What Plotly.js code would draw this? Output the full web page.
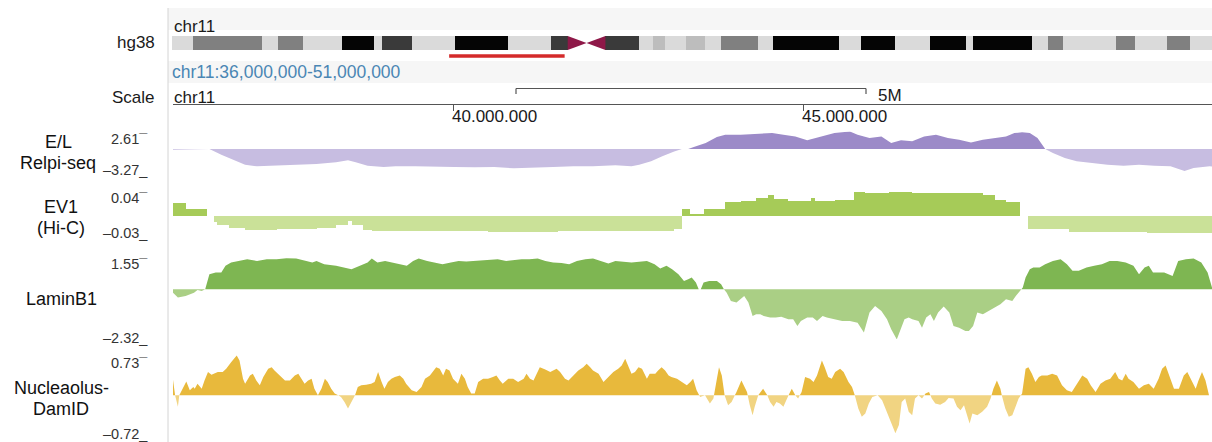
<!DOCTYPE html>
<html>
<head>
<meta charset="utf-8">
<script src="https://cdn.plot.ly/plotly-3.0.1.min.js"></script>
<style>html,body{margin:0;padding:0;background:#fff}#chart{width:1212px;height:442px}</style>
</head>
<body>
<div id="chart"></div>
<script>
// ---------------- DATA ----------------
const chromName = "chr11";
const assembly = "hg38";
const chromLength = 135.09;          // Mb
const regionStart = 36.0, regionEnd = 51.0; // Mb
const tickMb = [40, 45];
const scaleBarStart = 40.9, scaleBarLen = 5, scaleBarLabel = "5M";

// ideogram bands (Mb edges) and stains
const bandEdges = [0,2.7,11.7,13.8,17.0,22.1,26.3,27.3,31.2,36.7,43.7,49.2,51.4,56.3,60.6,62.5,64.1,66.8,69.2,71.3,76.1,78.1,86.6,89.5,93.9,98.4,103.2,104.0,111.7,113.8,115.7,122.6,125.1,129.3,132.2,135.09];
const bandStain = ["gneg","gpos50","gneg","gpos50","gneg","gpos100","gneg","gpos75","gneg","gpos100","gneg","gpos75","acen","gpos75","gneg","gpos25","gneg","gpos25","gneg","gpos50","gneg","gpos100","gneg","gpos100","gneg","gpos100","gneg","gpos100","gneg","gpos50","gneg","gpos50","gneg","gpos50","gneg"];

const trackNames = [["E/L","Relpi-seq"],["EV1","(Hi-C)"],["LaminB1"],["Nucleaolus-","DamID"]];
const trackMax = [2.61, 0.04, 1.55, 0.73];
const trackMin = [-3.27, -0.03, -2.32, -0.72];

// E/L Repli-seq
const repliMb = [36.00,36.18,36.52,36.69,36.86,37.03,37.20,37.48,37.76,38.05,
38.33,38.50,38.61,38.78,39.01,39.18,39.46,39.74,40.02,40.31,
40.59,40.87,41.15,41.43,41.72,42.00,42.32,42.55,42.66,42.83,
42.99,43.16,43.27,43.36,43.44,43.61,43.77,43.89,44.11,44.33,
44.56,44.72,44.89,45.06,45.23,45.45,45.67,45.78,45.95,46.12,
46.26,46.40,46.56,46.73,46.90,47.07,47.23,47.40,47.57,47.74,
47.90,48.02,48.13,48.24,48.35,48.46,48.57,48.74,48.91,49.13,
49.35,49.58,49.80,50.02,50.25,50.45,50.58,50.81,50.85];
const repliValue = [-0.10,-0.05,0,-0.85,-1.58,-2.33,-2.57,-2.48,-2.33,-2.23,
-1.98,-1.68,-1.98,-2.48,-2.67,-2.57,-2.57,-2.67,-2.67,-2.72,
-2.67,-2.87,-2.72,-2.67,-2.57,-2.57,-2.43,-2.57,-2.33,-1.83,
-1.09,-0.35,0,0,0.30,0.89,1.78,2.13,2.13,2.23,
2.38,2.13,1.88,1.29,1.78,2.38,2.62,2.13,1.63,1.88,
0.89,1.29,1.14,1.88,2.13,1.63,1.39,0.99,1.39,1.63,
1.88,2.38,2.48,2.38,1.63,0,-0.59,-1.34,-1.83,-2.08,
-2.33,-2.48,-2.33,-2.48,-2.57,-3.27,-2.82,-2.57,-2.60];

// EV1 (Hi-C) bins
const ev1Start = [36.00,36.18,36.58,36.63,36.80,37.03,37.48,38.05,38.33,38.50,
38.55,38.72,38.84,40.50,41.50,43.16,43.27,43.38,43.58,43.89,
44.11,44.33,44.50,44.58,44.78,45.11,45.17,45.45,45.73,45.89,
46.23,46.56,47.57,47.74,47.90,48.21,48.80,49.35,49.91];
const ev1End = [36.18,36.49,36.63,36.80,37.03,37.48,38.05,38.33,38.50,38.55,
38.72,38.84,40.50,41.50,43.16,43.27,43.38,43.58,43.89,44.11,
44.33,44.50,44.58,44.78,45.11,45.17,45.45,45.73,45.89,46.23,
46.56,47.57,47.74,47.90,48.10,48.80,49.35,49.91,50.85];
const ev1Value = [0.021,0.011,-0.011,-0.016,-0.020,-0.023,-0.022,-0.020,-0.015,-0.009,
-0.015,-0.023,-0.025,-0.026,-0.025,-0.022,0.010,0.003,0.011,0.022,
0.024,0.029,0.033,0.027,0.024,0.029,0.024,0.026,0.038,0.036,
0.038,0.036,0.033,0.026,0.022,-0.022,-0.027,-0.026,-0.028];

// LaminB1
const laminMb = [36.00,36.07,36.18,36.30,36.35,36.41,36.46,36.52,36.61,36.69,
36.75,36.83,36.92,37.06,37.20,37.34,37.48,37.62,37.76,37.88,
37.99,38.05,38.16,38.33,38.47,38.55,38.67,38.78,38.84,38.92,
39.03,39.12,39.23,39.34,39.43,39.51,39.63,39.74,39.85,39.97,
40.08,40.19,40.30,40.42,40.53,40.64,40.76,40.87,40.98,41.09,
41.21,41.32,41.43,41.55,41.66,41.77,41.89,42.00,42.11,42.22,
42.32,42.43,42.55,42.66,42.77,42.88,42.96,43.05,43.13,43.22,
43.30,43.36,43.41,43.47,43.51,43.54,43.58,43.66,43.77,43.83,
43.87,43.91,43.97,44.05,44.11,44.16,44.22,44.28,44.33,44.39,
44.44,44.53,44.61,44.69,44.79,44.86,44.92,44.97,45.06,45.14,
45.20,45.28,45.34,45.45,45.56,45.67,45.78,45.87,45.95,46.03,
46.12,46.20,46.26,46.34,46.40,46.45,46.51,46.56,46.65,46.70,
46.76,46.82,46.87,46.93,47.01,47.09,47.15,47.23,47.32,47.37,
47.43,47.49,47.57,47.65,47.74,47.82,47.90,47.99,48.04,48.10,
48.14,48.18,48.24,48.29,48.38,48.46,48.57,48.68,48.77,48.85,
48.94,49.05,49.16,49.27,49.38,49.49,49.61,49.72,49.80,49.88,
49.94,50.00,50.08,50.16,50.28,50.36,50.47,50.58,50.69,50.78,
50.85];
const laminValue = [-0.16,-0.39,-0.31,-0.16,-0.03,-0.08,0,0.70,0.78,0.78,
1.09,1.25,1.32,1.40,1.32,1.40,1.40,1.45,1.43,1.32,
1.25,1.32,1.17,1.09,1.01,0.93,1.09,1.25,1.43,1.25,
1.32,1.25,1.17,1.09,1.32,1.43,1.32,1.25,1.17,1.25,
1.32,1.29,1.32,1.32,1.37,1.40,1.32,1.37,1.40,1.40,
1.43,1.32,1.25,1.22,1.17,1.32,1.40,1.43,1.32,1.20,
1.32,1.28,1.25,1.28,1.32,1.17,0.97,1.09,0.93,0.70,
0.39,0.47,0.55,0.31,0,0,0.31,0.39,0.39,0.23,
0,-0.16,-0.55,-0.62,-0.47,-0.31,-0.62,-1.25,-1.17,-1.17,
-1.25,-1.32,-1.32,-1.28,-1.40,-1.40,-1.71,-1.48,-1.32,-1.32,
-1.48,-1.25,-1.32,-1.40,-1.48,-1.48,-1.56,-2.02,-1.09,-0.78,
-1.01,-1.40,-1.87,-2.34,-1.87,-1.40,-1.32,-1.40,-1.48,-1.79,
-1.32,-1.17,-1.48,-1.09,-0.81,-1.09,-1.71,-1.79,-1.95,-1.95,
-1.71,-1.09,-1.17,-1.01,-0.86,-0.70,-0.47,-0.55,-0.31,-0.08,
0.08,0.55,0.93,1.01,1.01,1.17,1.32,1.40,1.17,0.86,
0.86,1.01,1.09,1.17,1.32,1.32,1.25,1.09,0.70,1.01,
1.09,0.78,0.78,0.78,0.62,1.32,1.40,1.43,1.25,0.78,
0];

// Nucleolus DamID
const nucMb = [36.00,36.03,36.07,36.09,36.19,36.24,36.29,36.31,36.35,36.41,
36.45,36.50,36.55,36.60,36.64,36.71,36.76,36.83,36.91,36.95,
37.00,37.03,37.10,37.14,37.19,37.24,37.29,37.36,37.41,37.45,
37.52,37.60,37.67,37.74,37.79,37.83,37.88,37.93,37.98,38.02,
38.07,38.12,38.17,38.21,38.26,38.31,38.36,38.40,38.45,38.50,
38.55,38.60,38.64,38.69,38.76,38.83,38.88,38.93,38.98,39.02,
39.07,39.12,39.17,39.24,39.29,39.33,39.41,39.48,39.55,39.60,
39.67,39.71,39.76,39.81,39.86,39.90,39.95,40.00,40.07,40.12,
40.17,40.21,40.26,40.31,40.36,40.43,40.50,40.57,40.62,40.67,
40.71,40.79,40.86,40.93,41.01,41.05,41.10,41.15,41.20,41.24,
41.31,41.39,41.43,41.48,41.53,41.60,41.65,41.72,41.79,41.86,
41.91,41.96,42.00,42.08,42.15,42.22,42.29,42.36,42.41,42.46,
42.49,42.55,42.60,42.65,42.70,42.77,42.81,42.89,42.93,42.98,
43.03,43.08,43.12,43.20,43.27,43.34,43.39,43.43,43.48,43.53,
43.60,43.67,43.72,43.77,43.80,43.84,43.88,43.93,43.98,44.05,
44.12,44.20,44.24,44.28,44.31,44.36,44.43,44.48,44.53,44.58,
44.62,44.67,44.72,44.77,44.84,44.89,44.93,44.98,45.03,45.10,
45.15,45.20,45.27,45.31,45.36,45.41,45.46,45.53,45.58,45.65,
45.70,45.74,45.79,45.84,45.89,45.94,45.99,46.06,46.13,46.20,
46.27,46.32,46.37,46.41,46.46,46.51,46.56,46.60,46.65,46.70,
46.75,46.80,46.84,46.89,46.96,47.03,47.08,47.15,47.20,47.25,
47.30,47.34,47.38,47.42,47.49,47.56,47.63,47.68,47.72,47.77,
47.82,47.84,47.89,47.94,47.99,48.03,48.08,48.13,48.18,48.22,
48.27,48.32,48.37,48.41,48.49,48.56,48.63,48.70,48.77,48.84,
48.91,48.99,49.06,49.11,49.18,49.25,49.32,49.39,49.46,49.51,
49.56,49.61,49.65,49.72,49.80,49.87,49.94,50.01,50.08,50.13,
50.18,50.22,50.30,50.37,50.44,50.49,50.56,50.61,50.65,50.70,
50.75,50.80];
const nucValue = [0.28,0,-0.21,0,0.25,0.09,0.15,0.12,0.21,0.12,
0.27,0.42,0.37,0.39,0.42,0.42,0.48,0.60,0.72,0.63,
0.30,0.21,0.36,0.39,0.27,0.18,0.33,0.48,0.51,0.45,
0.36,0.27,0.27,0.36,0.39,0.30,0.21,0.27,0.30,0.12,
0,0.12,0.30,0.24,0.12,0.03,0,-0.03,-0.12,-0.24,
-0.12,0,0.15,0.18,0.19,0.21,0.24,0.42,0.24,0.12,
0.24,0.30,0.33,0.36,0.30,0.21,0.09,0.06,0.15,0.30,
0.36,0.42,0.51,0.48,0.36,0.48,0.45,0.30,0.21,0.39,
0.30,0.15,0.03,0.03,0.24,0.30,0.30,0.33,0.36,0.27,
0.21,0.30,0.30,0.24,0.30,0.39,0.30,0.27,0.42,0.51,
0.47,0.42,0.45,0.48,0.42,0.30,0.27,0.36,0.45,0.51,
0.57,0.51,0.45,0.39,0.24,0.33,0.42,0.48,0.54,0.66,
0.57,0.39,0.42,0.51,0.48,0.30,0.39,0.39,0.45,0.51,
0.45,0.36,0.33,0.30,0.24,0.18,0.24,0.30,0.09,-0.03,
0,-0.15,-0.06,0.30,0.51,0.36,0,-0.18,-0.12,0.06,
0.27,0.06,-0.18,-0.36,-0.21,0,0.12,0.03,-0.12,-0.21,
-0.12,-0.15,-0.21,-0.06,0.12,0,-0.06,0.06,0.33,0.30,
0.24,0.36,0.63,0.51,0.33,0.30,0.42,0.48,0.42,0.24,
0.15,0,-0.24,-0.39,-0.33,-0.15,-0.03,0.01,-0.09,-0.30,
-0.54,-0.69,-0.54,-0.12,-0.06,-0.30,-0.36,-0.06,0,-0.06,
0.03,0.06,-0.06,-0.15,-0.17,-0.12,-0.05,-0.06,-0.21,-0.27,
-0.18,-0.36,-0.51,-0.33,-0.36,-0.30,-0.21,-0.06,0.12,0.27,
0.12,0,-0.24,-0.39,-0.36,-0.21,-0.06,0.03,0.48,0.51,
0.39,0.24,0.33,0.36,0.36,0.39,0.36,0.18,0.09,0.06,
0.21,0.36,0.30,0.18,0.06,0.21,0.27,0.30,0.42,0.30,
0.27,0.39,0.30,0.24,0.12,0.18,0.21,0.12,0.30,0.48,
0.54,0.39,0.12,0.12,0.36,0.42,0.24,0.12,0.27,0.42,
0.27,0];

// ---------------- STYLE / LAYOUT ----------------
const W = 1212, H = 442;
const fx = p => p / W, fy = p => 1 - p / H;
const FONT = '"Liberation Sans", Arial, Helvetica, sans-serif';
const plotLeftPx = 173, pxPerMb = 70;
const viewEnd = regionStart + (W - plotLeftPx) / pxPerMb;

const stainColor = {gneg:'#dadada', gpos25:'#bdbdbd', gpos50:'#808080', gpos75:'#3a3a3a', gpos100:'#050505', acen:'#8e1848'};
const trackColors = [
  ['rgb(156,138,200)','rgb(199,189,225)'],
  ['rgb(166,203,88)','rgb(202,225,152)'],
  ['rgb(126,182,82)','rgb(170,207,133)'],
  ['rgb(232,185,60)','rgb(241,212,130)']
];
// track vertical placement in pixels: [top (max value), bottom (min value)]
const trackPx = [[131.5,171],[191,234],[256,339],[355,435]];

function splitSigned(xs, ys){
  const px=[],py=[],nx=[],ny=[];
  for(let i=0;i<xs.length;i++){
    if(i>0){
      const y0=ys[i-1], y1=ys[i];
      if((y0>0&&y1<0)||(y0<0&&y1>0)){
        const t=y0/(y0-y1), xc=xs[i-1]+t*(xs[i]-xs[i-1]);
        px.push(xc);py.push(0);nx.push(xc);ny.push(0);
      }
    }
    px.push(xs[i]);py.push(Math.max(ys[i],0));
    nx.push(xs[i]);ny.push(Math.min(ys[i],0));
  }
  return {px,py,nx,ny};
}

const traces = [];
function addArea(xs, ys, k){
  const s = splitSigned(xs, ys);
  const ya = 'y' + (k===0?'':(k+1));
  traces.push({type:'scatter',mode:'lines',x:s.px,y:s.py,xaxis:'x',yaxis:ya,fill:'tozeroy',
    fillcolor:trackColors[k][0],line:{width:0,color:trackColors[k][0]},hoverinfo:'skip'});
  traces.push({type:'scatter',mode:'lines',x:s.nx,y:s.ny,xaxis:'x',yaxis:ya,fill:'tozeroy',
    fillcolor:trackColors[k][1],line:{width:0,color:trackColors[k][1]},hoverinfo:'skip'});
}
addArea(repliMb, repliValue, 0);
traces.push({type:'bar',x:ev1Start.map((s,i)=>(s+ev1End[i])/2),width:ev1Start.map((s,i)=>ev1End[i]-s),
  y:ev1Value,xaxis:'x',yaxis:'y2',marker:{color:ev1Value.map(v=>v>=0?trackColors[1][0]:trackColors[1][1]),line:{width:0}},hoverinfo:'skip'});
addArea(laminMb, laminValue, 2);
addArea(nucMb, nucValue, 3);

// ideogram
const bx=[],bw=[],bc=[],by=[];
let cen=null;
bandStain.forEach((s,i)=>{
  const a=bandEdges[i], b=bandEdges[i+1];
  if(s==='acen'){cen=[a,b];return;}
  bx.push((a+b)/2); bw.push(b-a); bc.push(stainColor[s]); by.push(1);
});
traces.push({type:'bar',x:bx,y:by,width:bw,base:0,xaxis:'x2',yaxis:'y5',marker:{color:bc,line:{width:0}},hoverinfo:'skip'});
if(cen){
  const mid=(cen[0]+cen[1])/2;
  traces.push({type:'scatter',mode:'lines',x:[cen[0],cen[0],mid,cen[0]],y:[0,1,0.5,0],xaxis:'x2',yaxis:'y5',fill:'toself',fillcolor:stainColor.acen,line:{width:0,color:stainColor.acen},hoverinfo:'skip'});
  traces.push({type:'scatter',mode:'lines',x:[cen[1],cen[1],mid,cen[1]],y:[0,1,0.5,0],xaxis:'x2',yaxis:'y5',fill:'toself',fillcolor:stainColor.acen,line:{width:0,color:stainColor.acen},hoverinfo:'skip'});
}

const fmt = (v, sep) => Math.round(v*1e6).toString().replace(/\B(?=(\d{3})+(?!\d))/g, sep);

const ann = [];
function txt(text, x, y, opts){
  ann.push(Object.assign({text, x, y, xref:'paper', yref:'paper', showarrow:false, xanchor:'left', yanchor:'middle',
    font:{family:FONT,size:17,color:'#1a1a1a'}}, opts||{}));
}
const HF = {family:FONT,size:17,color:'#1a1a1a'};
// header
txt(chromName, fx(172), fy(26), {font:HF});
txt(assembly, fx(157), fy(43), {xanchor:'right', font:HF});
txt(`${chromName}:${fmt(regionStart,',')}-${fmt(regionEnd,',')}`, fx(170), fy(72), {font:{family:FONT,size:17.5,color:'#4a86b4'}});
txt('Scale', fx(157), fy(97), {xanchor:'right', font:HF});
txt(chromName, fx(172), fy(97), {font:HF});
tickMb.forEach(t=>{
  ann.push({text:fmt(t,'.'), x:t, xref:'x', y:fy(116.5), yref:'paper', showarrow:false, xanchor:'left', yanchor:'middle', xshift:-3,
    font:HF});
});
ann.push({text:scaleBarLabel, x:scaleBarStart+scaleBarLen, xref:'x', y:fy(95), yref:'paper', showarrow:false, xanchor:'left', yanchor:'middle', xshift:10,
  font:HF});

// track labels
const labelCenters = [[58,[142,163]],[61,[207,228]],[61,[299]],[61,[388,409]]];
trackNames.forEach((lines,k)=>{
  lines.forEach((ln,j)=>{
    txt(ln, fx(labelCenters[k][0]), fy(labelCenters[k][1][j]), {xanchor:'center', font:{family:FONT,size:18,color:'#111'}});
  });
  const fmtv = v => (v<0?'\u2013':'') + Math.abs(v).toFixed(2);
  txt(fmtv(trackMax[k]) + '\u00af', fx(150), fy(trackPx[k][0] + 7.5), {xanchor:'right', font:{family:FONT,size:14.5,color:'#333'}});
  txt(fmtv(trackMin[k]) + '_', fx(150), fy(trackPx[k][1] - 1), {xanchor:'right', font:{family:FONT,size:14.5,color:'#333'}});
});

const shapes = [
  {type:'rect', xref:'paper', yref:'paper', x0:fx(168), x1:1, y0:fy(30), y1:fy(8), fillcolor:'#f6f6f6', line:{width:0}, layer:'below'},
  {type:'rect', xref:'paper', yref:'paper', x0:fx(168), x1:1, y0:fy(83), y1:fy(61), fillcolor:'#f6f6f6', line:{width:0}, layer:'below'},
  {type:'line', xref:'paper', yref:'paper', x0:fx(168), x1:fx(168), y0:fy(8), y1:0, line:{color:'#d4d4d4', width:1}},
  {type:'line', xref:'x2', yref:'paper', x0:regionStart, x1:regionEnd, y0:fy(56), y1:fy(56), line:{color:'#d42a2a', width:3.5}},
  {type:'line', xref:'x', yref:'paper', x0:scaleBarStart, x1:scaleBarStart+scaleBarLen, y0:fy(88.5), y1:fy(88.5), line:{color:'#555', width:1.2}},
  {type:'line', xref:'x', yref:'paper', x0:scaleBarStart, x1:scaleBarStart, y0:fy(88.5), y1:fy(94), line:{color:'#555', width:1.2}},
  {type:'line', xref:'x', yref:'paper', x0:scaleBarStart+scaleBarLen, x1:scaleBarStart+scaleBarLen, y0:fy(88.5), y1:fy(94), line:{color:'#555', width:1.2}}
];

const hidden = {visible:false, fixedrange:true};
const layout = {
  width:W, height:H, margin:{l:0,r:0,t:0,b:0}, paper_bgcolor:'#fff', plot_bgcolor:'rgba(0,0,0,0)',
  showlegend:false, bargap:0,
  xaxis:{domain:[fx(plotLeftPx),1], range:[regionStart, viewEnd], anchor:'free', position:fy(104),
    showline:true, linecolor:'#555', linewidth:1, ticks:'outside', ticklen:6, tickcolor:'#555', tickwidth:1,
    tickvals:tickMb, showticklabels:false, showgrid:false, zeroline:false, fixedrange:true},
  xaxis2:Object.assign({domain:[fx(plotLeftPx-1),1], range:[0, chromLength], anchor:'y5'}, hidden),
  yaxis:Object.assign({domain:[fy(trackPx[0][1]),fy(trackPx[0][0])], range:[trackMin[0],trackMax[0]], anchor:'x'}, hidden),
  yaxis2:Object.assign({domain:[fy(trackPx[1][1]),fy(trackPx[1][0])], range:[trackMin[1],trackMax[1]], anchor:'x'}, hidden),
  yaxis3:Object.assign({domain:[fy(trackPx[2][1]),fy(trackPx[2][0])], range:[trackMin[2],trackMax[2]], anchor:'x'}, hidden),
  yaxis4:Object.assign({domain:[fy(trackPx[3][1]),fy(trackPx[3][0])], range:[trackMin[3],trackMax[3]], anchor:'x'}, hidden),
  yaxis5:Object.assign({domain:[fy(50),fy(36)], range:[0,1], anchor:'x2'}, hidden),
  annotations:ann, shapes:shapes
};
Plotly.newPlot('chart', traces, layout, {staticPlot:true, displayModeBar:false});
</script>
</body>
</html>
